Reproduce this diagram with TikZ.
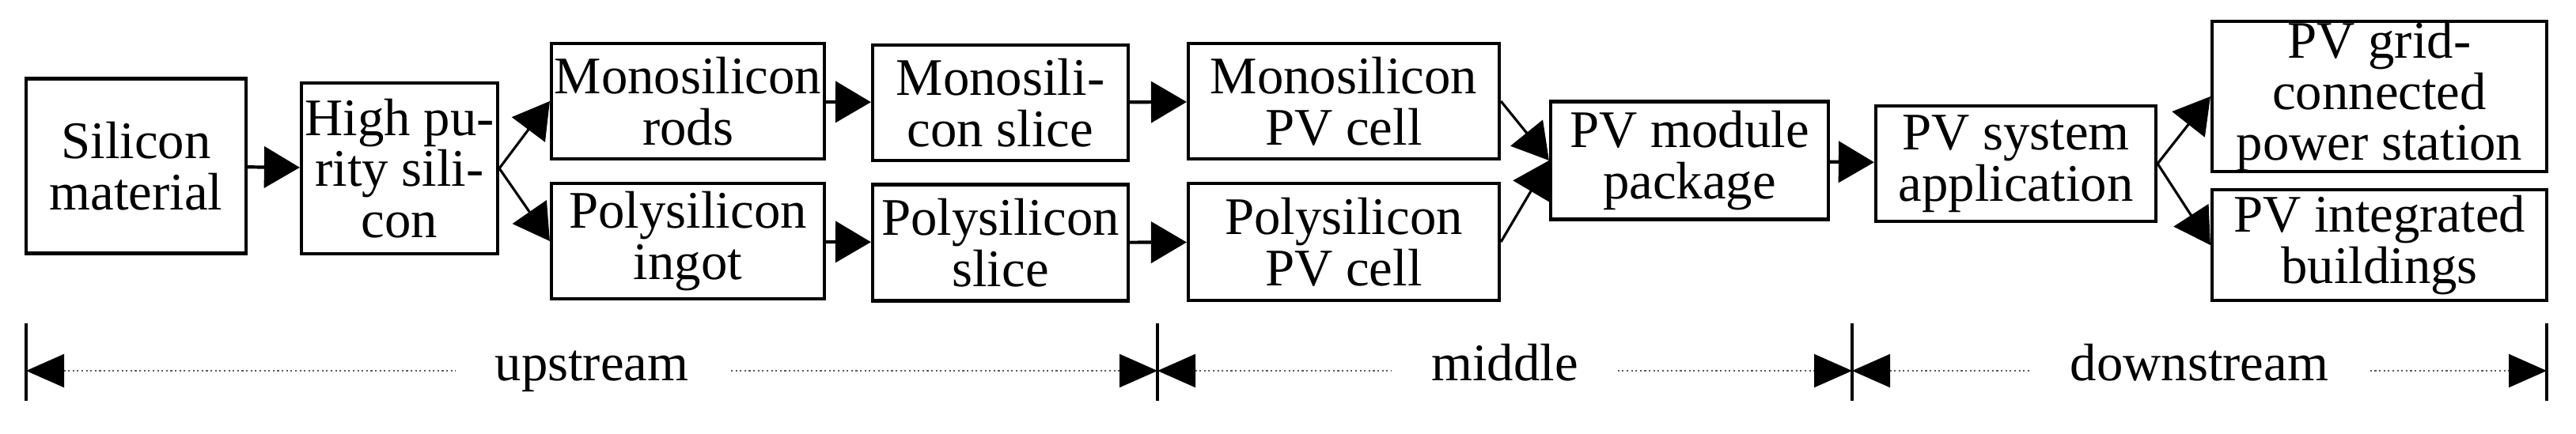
\documentclass[tikz,border=0pt]{standalone}
\usepackage{fontspec}
\setmainfont{Liberation Serif}
\usetikzlibrary{positioning,arrows.meta}

\tikzset{
    stage/.style={draw, line width=1.2pt, align=center, inner sep=0pt,
        font=\fontsize{19}{18.4}\selectfont},
    flow/.style={-{Triangle[length=0.45cm,width=0.52cm]}, line width=1.2pt},
    branch/.style={-{Triangle[length=0.45cm,width=0.52cm]}, line width=0.9pt},
    span/.style={{Triangle[length=0.48cm,width=0.42cm,black]}-{Triangle[length=0.48cm,width=0.42cm,black]},
        densely dotted, line width=0.6pt, gray!70!black},
    tick/.style={line width=1pt},
    spanlabel/.style={fill=white, inner xsep=0.5cm, text=black, text height=2.2ex, text depth=0.6ex,
        font=\fontsize{19}{19}\selectfont}
}

\begin{document}
\begin{tikzpicture}
        \useasboundingbox (0,0) rectangle (32.56,-5.48);

        % Upstream
        \node[stage, minimum width=2.78cm, minimum height=2.21cm] (silicon) at (1.72,-2.10) {Silicon\\material};
        \node[stage, minimum width=2.48cm, minimum height=2.16cm] (purity) at (5.05,-2.13) {High pu-\\rity sili-\\con};
        \node[stage, minimum width=3.45cm, minimum height=1.46cm] (rods) at (8.695,-1.28) {Monosilicon\\rods};
        \node[stage, minimum width=3.45cm, minimum height=1.46cm] (ingot) at (8.695,-3.05) {Polysilicon\\ingot};
        \node[stage, minimum width=3.23cm, minimum height=1.46cm] (monoslice) at (12.645,-1.30) {Monosili-\\con slice};
        \node[stage, minimum width=3.23cm, minimum height=1.47cm] (polyslice) at (12.645,-3.07) {Polysilicon\\slice};

        % Middle
        \node[stage, minimum width=3.93cm, minimum height=1.46cm] (monocell) at (16.985,-1.28) {Monosilicon\\PV cell};
        \node[stage, minimum width=3.93cm, minimum height=1.48cm] (polycell) at (16.985,-3.06) {Polysilicon\\PV cell};
        \node[stage, minimum width=3.51cm, minimum height=1.49cm] (module) at (21.355,-2.03) {PV module\\package};

        % Downstream
        \node[stage, minimum width=3.54cm, minimum height=1.46cm] (system) at (25.48,-2.07) {PV system\\application};
        \node[stage, minimum width=4.23cm, minimum height=1.81cm] (grid) at (30.075,-1.22) {PV grid-\\connected\\power station};
        \node[stage, minimum width=4.23cm, minimum height=1.40cm] (buildings) at (30.075,-3.10) {PV integrated\\buildings};

        % Frecce
        \draw[flow] (silicon) -- (purity);
        \draw[branch] (purity.east) -- (rods.west);
        \draw[branch] (purity.east) -- (ingot.west);
        \draw[flow] (rods) -- (monoslice);
        \draw[flow] (ingot) -- (polyslice);
        \draw[flow] (monoslice) -- (monocell);
        \draw[flow] (polyslice) -- (polycell);
        \draw[branch] (monocell.east) -- (module.west);
        \draw[branch] (polycell.east) -- (module.west);
        \draw[flow] (module) -- (system);
        \draw[branch] (system.east) -- (grid.west);
        \draw[branch] (system.east) -- (buildings.west);

        % Segmenti della filiera
        \coordinate (s0) at (0.33,-4.69);
        \coordinate (s1) at (14.63,-4.69);
        \coordinate (s2) at (23.41,-4.69);
        \coordinate (s3) at (32.19,-4.69);
        \foreach \s in {s0,s1,s2,s3}
            \draw[tick] ([yshift=0.6cm]\s) -- ([yshift=-0.38cm]\s);
        \draw[span] (s0) -- (s1) node[midway, spanlabel] {upstream};
        \draw[span] (s1) -- (s2) node[midway, spanlabel] {middle};
        \draw[span] (s2) -- (s3) node[midway, spanlabel] {downstream};
    \end{tikzpicture}
\end{document}
